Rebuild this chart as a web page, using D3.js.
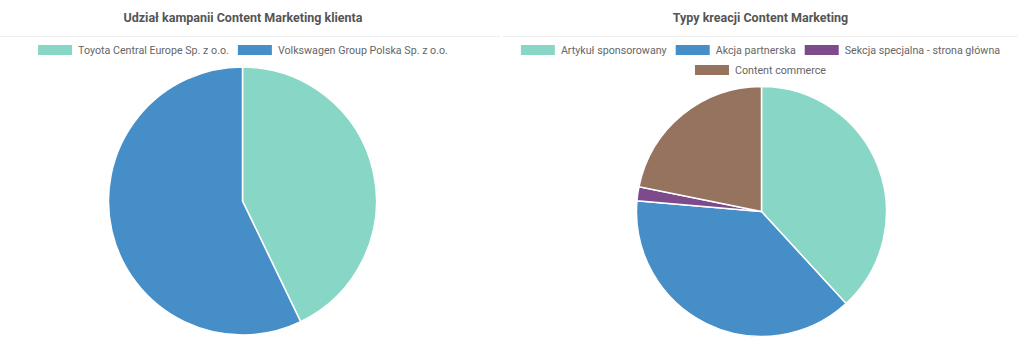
<!DOCTYPE html>
<html><head><meta charset="utf-8">
<script src="https://cdn.jsdelivr.net/npm/d3@7"></script>
<style>
html,body{margin:0;padding:0;background:#fff;}
svg{display:block;font-family:Roboto, "Helvetica Neue", Arial, sans-serif;}
</style></head>
<body><svg id="c" width="1024" height="354"></svg>
<script>
const titles = ["Udział kampanii Content Marketing klienta", "Typy kreacji Content Marketing"];
const clientLabels = ["Toyota Central Europe Sp. z o.o.", "Volkswagen Group Polska Sp. z o.o."];
const clientValues = [3, 4];
const clientColors = ["#88d7c6", "#468ec8"];
const typeLabels = ["Artykuł sponsorowany", "Akcja partnerska", "Sekcja specjalna - strona główna", "Content commerce"];
const typeValues = [21, 21, 1, 12];
const typeColors = ["#88d7c6", "#468ec8", "#7d4a8c", "#96735f"];

const svg = d3.select("#c");

function panel(x0, width, center, title, labels, values, colors, legendRows, pie) {
  const g = svg.append("g").attr("transform", `translate(${x0},0)`);
  g.append("text").attr("x", center).attr("y", 22).attr("text-anchor","middle")
    .attr("font-size", 12.5).attr("font-weight", "bold").attr("fill", "#555").text(title);
  g.append("line").attr("x1", 0).attr("x2", width).attr("y1", 36.5).attr("y2", 36.5)
    .attr("stroke", "#eeeeee").attr("stroke-width", 1);

  // legend
  const boxW = 34, boxH = 10, gap = 6, itemGap = 9, fs = 10.7;
  const measure = g.append("text").attr("font-size", fs).attr("visibility","hidden");
  const widths = labels.map(l => { measure.text(l); return measure.node().getComputedTextLength(); });
  measure.remove();
  legendRows.forEach((row, ri) => {
    const itemW = row.map(i => boxW + gap + widths[i]);
    const total = d3.sum(itemW) + itemGap * (row.length - 1);
    let x = center - total/2;
    const cy = 50 + ri * 20;
    row.forEach((i, k) => {
      g.append("rect").attr("x", x).attr("y", cy - boxH/2).attr("width", boxW).attr("height", boxH)
        .attr("fill", colors[i]);
      g.append("text").attr("x", x + boxW + gap).attr("y", cy).attr("dy", "0.35em")
        .attr("font-size", fs).attr("fill", "#666").text(labels[i]);
      x += itemW[k] + itemGap;
    });
  });

  const arcs = d3.pie().sort(null).value(d => d)(values);
  const arc = d3.arc().innerRadius(0).outerRadius(pie.r);
  const pg = g.append("g").attr("transform", `translate(${pie.cx},${pie.cy})`);
  pg.selectAll("path").data(arcs).join("path")
    .attr("d", arc).attr("fill", (d,i) => colors[i])
    .attr("stroke", "#fff").attr("stroke-width", 1.5);
}

panel(0, 500, 243, titles[0], clientLabels, clientValues, clientColors, [[0,1]], {cx: 242.5, cy: 201, r: 134});
panel(503, 515, 257.5, titles[1], typeLabels, typeValues, typeColors, [[0,1,2],[3]], {cx: 258.5, cy: 211.5, r: 125});
</script></body></html>
